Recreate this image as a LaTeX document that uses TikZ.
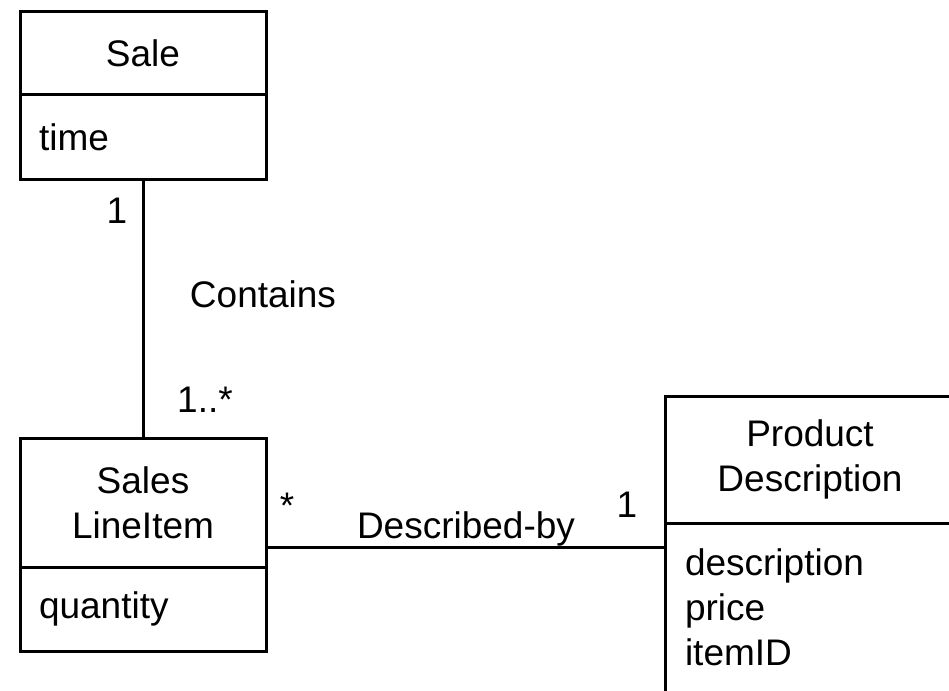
\documentclass[tikz,border=0pt]{standalone}
\usepackage{fontspec}
\setmainfont{Liberation Sans}
\usepackage{tikz}

\begin{document}
\begin{tikzpicture}[x=1pt, y=-1pt, line width=3pt,
	every node/.style={font=\fontsize{37}{45}\selectfont},
	classhead/.style={rectangle, draw, align=center, inner sep=0pt, outer sep=0pt},
	classattr/.style={rectangle, draw, align=left, inner xsep=19pt, inner ysep=0pt, outer sep=0pt},
	mult/.style={inner sep=0pt, anchor=base}]
\useasboundingbox (0,0) rectangle (949,690);
\clip (0,0) rectangle (949,690);
\node [classhead, minimum width=246, minimum height=83] (salehead) at (143,53.5) {Sale};
\node [classattr, text width=208, minimum height=84, anchor=north] (saleattr) at (salehead.south) {time};
\node [classhead, minimum width=246, minimum height=129] (itemhead) at (143,502.5) {Sales\\LineItem};
\node [classattr, text width=208, minimum height=84, anchor=north] (itemattr) at (itemhead.south) {quantity};
\node [classhead, minimum width=290, minimum height=127] (prodhead) at (810,459.5) {Product\\Description};
\node [classattr, text width=250, inner xsep=20pt, minimum height=169, anchor=north] (prodattr) at (prodhead.south) {description\\price\\itemID};
\draw (saleattr.south) -- (itemhead.north);
\draw (itemhead.south east) ++(0,-20) coordinate (descby) -- (descby -| prodattr.west);
\node [mult] (salemult) at (117,223) {1};
\node [mult] (contains) at (263,307) {Contains};
\node [mult] (itemmult) at (205,412) {1..*};
\node [mult] (descmany) at (287,518) {*};
\node [mult] (described) at (466,538) {Described-by};
\node [mult] (descone) at (627,517) {1};
\end{tikzpicture}
\end{document}
